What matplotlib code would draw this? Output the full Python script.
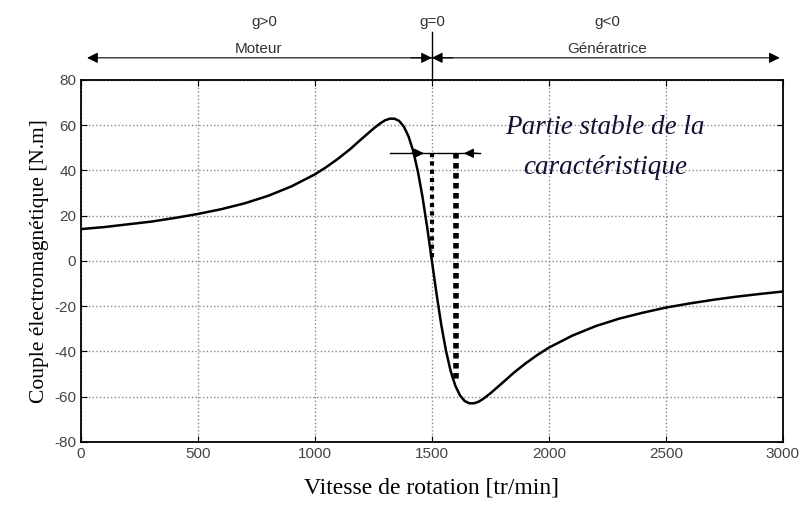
import matplotlib.pyplot as plt
import numpy as np

plt.rcParams['axes.unicode_minus'] = False

# couple electromagnetique (tr/min, N.m)
vitesse = [0, 100, 200, 300, 400, 500, 600, 700, 800, 900, 1000, 1050, 1100,
           1150, 1200, 1250, 1280, 1300, 1320, 1340, 1360, 1380, 1400, 1420,
           1440, 1460, 1480, 1500, 1520, 1540, 1560, 1580, 1600, 1620, 1640,
           1660, 1680, 1700, 1720, 1750, 1800, 1850, 1900, 1950, 2000, 2100,
           2200, 2300, 2400, 2500, 2600, 2700, 2800, 2900, 3000]
couple = [14.1, 15.0, 16.2, 17.4, 19.0, 20.8, 22.9, 25.5, 28.8, 33.0, 38.3,
          41.6, 45.3, 49.4, 54.0, 58.5, 60.9, 62.2, 62.9, 62.9, 61.9, 59.4,
          55.1, 48.6, 39.6, 28.2, 14.7, 0.0, -14.7, -28.2, -39.6, -48.6,
          -55.1, -59.4, -61.9, -62.9, -62.9, -62.2, -60.9, -58.5, -54.0,
          -49.4, -45.3, -41.6, -38.3, -33.0, -28.8, -25.5, -22.9, -20.6,
          -18.8, -17.2, -15.8, -14.6, -13.5]

xticks = [0, 500, 1000, 1500, 2000, 2500, 3000]
yticks = [-80, -60, -40, -20, 0, 20, 40, 60, 80]

# zone stable
n_sync = 1500
n_stable = 1603
c_stable = 47.6
c_bas = -54

fig = plt.figure(figsize=(8.07, 5.05), dpi=100)
ax = fig.add_axes([0.1004, 0.1248, 0.8696, 0.7168])

ax.plot(vitesse, couple, color='black', lw=1.8)
ax.set_xlim(0, 3000)
ax.set_ylim(-80, 80)
ax.set_xticks(xticks)
ax.set_yticks(yticks)
ax.tick_params(direction='in', top=True, right=True, labelsize=11,
               labelcolor='#444444', length=4)
for lab in ax.get_xticklabels() + ax.get_yticklabels():
    lab.set_family('Liberation Sans')
ax.grid(True, color='#888888', linestyle=':', lw=1.0)
for sp in ax.spines.values():
    sp.set_linewidth(1.3)

ax.set_xlabel("Vitesse de rotation [tr/min]", family='Liberation Serif',
              fontsize=17, labelpad=12)
ax.set_ylabel("Couple électromagnétique [N.m]", family='Liberation Serif',
              fontsize=15.5, labelpad=4)

# partie stable
ax.plot([n_sync, n_sync], [c_stable, 0], color='black', ls=(0, (1, 1)), lw=3)
ax.plot([n_stable, n_stable], [c_stable, c_bas], color='black',
        ls=(0, (1, 0.8)), lw=4)
ax.plot([1320, 1705], [c_stable, c_stable], color='black', lw=1)
ax.annotate('', xy=(1478, c_stable), xytext=(1400, c_stable),
            arrowprops=dict(arrowstyle='-|>', color='black', lw=1,
                            mutation_scale=14))
ax.annotate('', xy=(1625, c_stable), xytext=(1705, c_stable),
            arrowprops=dict(arrowstyle='-|>', color='black', lw=1,
                            mutation_scale=14))
ax.text(2240, 59.2, "Partie stable de la", family='Liberation Serif',
        style='italic', fontsize=19.5, ha='center', va='center', color='#111133')
ax.text(2240, 41.4, "caractéristique", family='Liberation Serif',
        style='italic', fontsize=19.5, ha='center', va='center', color='#111133')

# annotations du haut
y_fl = 89.8
ax.plot([1500, 1500], [80, 101.3], color='black', lw=1, clip_on=False)
fl = dict(arrowstyle='-|>', color='black', lw=0.8, mutation_scale=16,
          shrinkA=0, shrinkB=0)
ax.annotate('', xy=(26, y_fl), xytext=(1500, y_fl), annotation_clip=False,
            arrowprops=fl)
ax.annotate('', xy=(2987, y_fl), xytext=(1500, y_fl), annotation_clip=False,
            arrowprops=fl)
ax.annotate('', xy=(1500, y_fl), xytext=(1410, y_fl), annotation_clip=False,
            arrowprops=fl)
ax.annotate('', xy=(1500, y_fl), xytext=(1590, y_fl), annotation_clip=False,
            arrowprops=fl)

top = dict(family='Liberation Sans', fontsize=11, color='#333333',
           ha='center', va='center')
ax.text(784, 105.7, "g>0", **top)
ax.text(1500, 105.7, "g=0", **top)
ax.text(2250, 105.7, "g<0", **top)
ax.text(757, 93.5, "Moteur", **top)
ax.text(2250, 93.5, "Génératrice", **top)

fig.savefig('out.png', dpi=100)
